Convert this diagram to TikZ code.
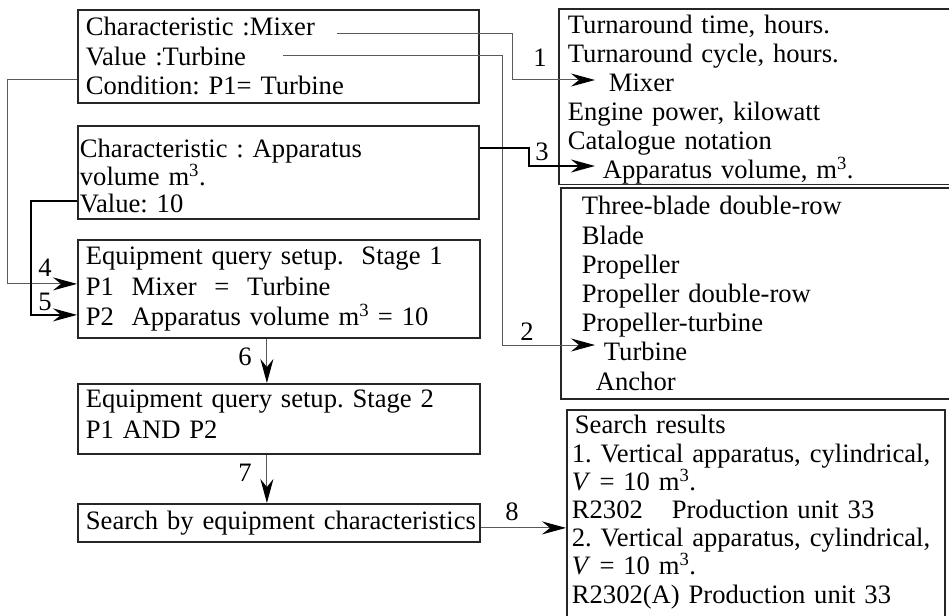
\documentclass[tikz,border=0pt]{standalone}
\usepackage{fontspec}
\setmainfont{Liberation Serif}
\usetikzlibrary{arrows.meta,positioning,calc}
\frenchspacing
\newcommand{\cube}{\textsuperscript{3}}
\newcommand{\hstrut}[1]{\rule{0pt}{#1}}
\newcommand{\dstrut}[1]{\rule[-#1]{0pt}{#1}}

\begin{document}
\begin{tikzpicture}[
    x=1pt, y=-1pt,
    box/.style  = {draw=black!85, line width=1.8pt, anchor=north west, align=left,
                   inner ysep=0pt, font=\fontsize{26.6}{29.5}\selectfont},
    num/.style  = {font=\fontsize{26.6}{29.5}\selectfont, inner sep=0pt},
    arr/.style  = {-{Stealth[length=24pt,width=13pt,inset=8pt,color=black]},
                   line width=1pt, draw=black!65},
    barr/.style = {arr, line width=1.3pt, draw=black},
]
\useasboundingbox (0,0) rectangle (949,615);
\clip (0,0) rectangle (949,615);

% query blocks on the left
\node[box, text width=385pt, inner xsep=8pt, minimum height=93pt] (cond) at (77,9)
    {Characteristic :Mixer\\ Value :Turbine\\ Condition: P1= Turbine};
\node[box, text width=397pt, inner xsep=2pt, minimum height=93pt,
      font=\fontsize{26.6}{27.5}\selectfont] (vol) at (77,125)
    {\hstrut{26pt}Characteristic : Apparatus\\ volume m\cube.\\ Value: 10};
\node[box, text width=386pt, inner xsep=8pt, minimum height=98pt] (stage1) at (77,239)
    {Equipment query setup.\ \ Stage 1\\[1.5pt]
     P1\ \ Mixer \ = \ Turbine\\[1pt]
     P2\ \ Apparatus volume m\cube\ = 10};
\node[box, text width=386pt, inner xsep=8pt, minimum height=70pt] (stage2) at (77,383)
    {Equipment query setup. Stage 2\\[2pt] P1 AND P2\dstrut{9pt}};
\node[box, text width=386pt, inner xsep=8pt, minimum height=38pt] (search) at (77,503)
    {\mbox{Search by equipment characteristics}};

% catalogue lists and results on the right
\node[box, text width=402pt, inner xsep=9pt, font=\fontsize{26.6}{29}\selectfont]
    (chars) at (558,8)
    {\hstrut{25pt}Turnaround time, hours.\\ Turnaround cycle, hours.\\
     \hspace*{41pt}Mixer\\ Engine power, kilowatt\\ Catalogue notation\\
     \hspace*{35pt}Apparatus volume, m\cube.};
\node[box, text width=378pt, inner xsep=21pt, minimum height=211pt,
      font=\fontsize{26.6}{29.2}\selectfont] (types) at (560,187)
    {Three-blade double-row\\ Blade\\ Propeller\\ Propeller double-row\\
     Propeller-turbine\\ \hspace*{22pt}Turbine\\ \hspace*{14pt}Anchor};
\node[box, text width=368pt, inner xsep=5pt,
      font=\fontsize{26.6}{28.2}\selectfont] (results) at (566,409)
    {\hstrut{24pt}\hspace*{3pt}Search results\\
     \makebox[\linewidth][s]{1. Vertical apparatus, cylindrical,}\\
     \textit{V} = 10 m\cube.\\
     R2302\hspace{29pt}Production unit 33\\
     \makebox[\linewidth][s]{2. Vertical apparatus, cylindrical,}\\
     \textit{V} = 10 m\cube.\\
     R2302(A) Production unit 33\dstrut{25pt}};

% ends of the links inside the boxes
\coordinate (mixEnd)   at (337,34);
\coordinate (turbEnd)  at (283,56);
\coordinate (mixItem)  at (595,80);
\coordinate (volItem)  at (595,166);
\coordinate (turbItem) at (595,345);

% links
\draw[arr]  (mixEnd)  -- ++(175,0) |- (mixItem);
\draw[arr]  (turbEnd) -- ++(219,0) |- (turbItem);
\draw[barr, line width=1.7pt] ([yshift=24.5pt]vol.east) -- ++(49,0) |- (volItem);
\draw[arr]  ([yshift=-23.5pt]cond.west) -- ++(-70,0) |- ([yshift=5pt]stage1.west);
\draw[barr] ([yshift=-28.5pt]vol.west) -- ++(-46,0) |- ([yshift=-26pt]stage1.west);
\draw[arr]  ([xshift=-12pt]stage1.south) -- ([xshift=-12pt]stage2.north);
\draw[arr]  ([xshift=-12pt]stage2.south) -- ([xshift=-12pt]search.north);
\draw[arr]  ([yshift=-5pt]search.east) -- ([yshift=-5pt]search.east -| results.west);

% link numbers
\node[num] (n1) at (540,58)  {1};
\node[num] (n2) at (527,332) {2};
\node[num] (n3) at (542,152) {3};
\node[num] (n4) at (45,268)  {4};
\node[num] (n5) at (45,302)  {5};
\node[num] (n6) at (245,357) {6};
\node[num] (n7) at (245,473) {7};
\node[num] (n8) at (512,512) {8};
\end{tikzpicture}
\end{document}
